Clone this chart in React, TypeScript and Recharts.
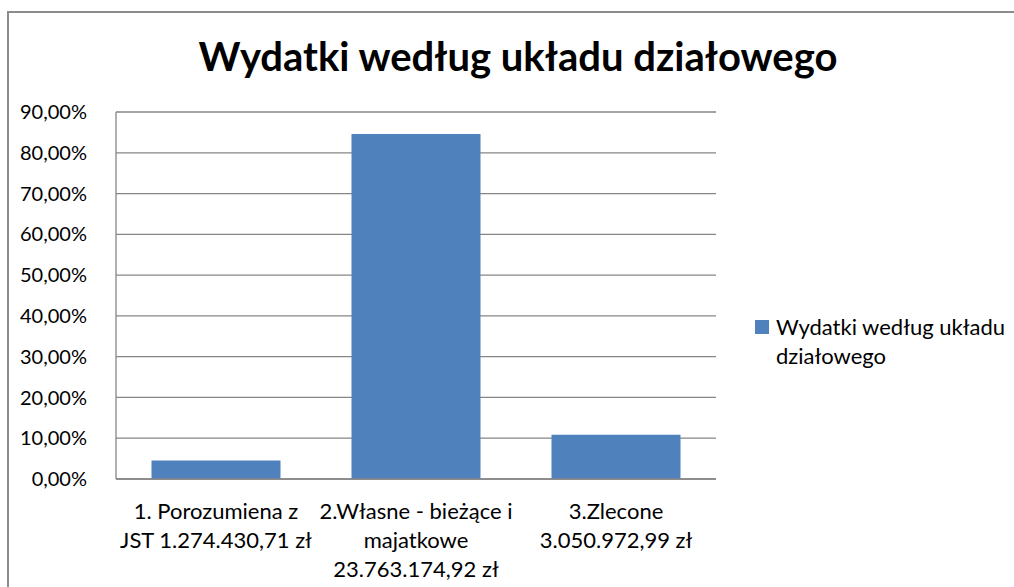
import { Bar, BarChart, CartesianGrid, XAxis, YAxis } from "recharts";

const categories = [
  ["1. Porozumiena z", "JST 1.274.430,71 zł"],
  ["2.Własne - bieżące i", "majatkowe", "23.763.174,92 zł"],
  ["3.Zlecone", "3.050.972,99 zł"],
];
const shares = [4.537, 84.602, 10.862];
const yTicks = [0, 10, 20, 30, 40, 50, 60, 70, 80, 90];
const seriesName = "Wydatki według układu działowego";

const data = categories.map((lines, i) => ({
  name: lines.join(" "),
  value: shares[i],
}));

const FONT = "Lato, 'Open Sans', sans-serif";

function CategoryTick({ x, y, payload, index }: any) {
  const lines = categories[index ?? 0] ?? [String(payload?.value ?? "")];
  return (
    <text x={x} y={y} textAnchor="middle" fill="#000" fontSize={22} fontFamily={FONT}>
      {lines.map((l, i) => (
        <tspan key={i} x={x} dy={i === 0 ? 32 : 29}>
          {l}
        </tspan>
      ))}
    </text>
  );
}

export default function App() {
  return (
    <div style={{ position: "fixed", left: 0, top: 0, width: 1014, height: 587, overflow: "hidden", background: "#fff" }}>
      <div style={{ position: "absolute", left: 7, top: 11, width: 1100, height: 700, border: "2px solid #8c8c8c", boxSizing: "border-box" }} />
      <div style={{ position: "absolute", left: 0, top: 32, width: 1036, textAlign: "center", fontFamily: FONT, fontWeight: 700, fontSize: 40, color: "#000" }}>
        {seriesName}
      </div>
      <BarChart
        width={1014}
        height={587}
        data={data}
        margin={{ top: 112, right: 298, bottom: 0, left: 0 }}
        barCategoryGap="17.75%"
        style={{ position: "absolute", left: 0, top: 0 }}
      >
        <CartesianGrid vertical={false} stroke="#868686" strokeWidth={1.3} />
        <XAxis
          dataKey="name"
          axisLine={{ stroke: "#868686", strokeWidth: 1.3 }}
          tickLine={false}
          interval={0}
          height={108}
          tick={<CategoryTick />}
        />
        <YAxis
          domain={[0, 90]}
          ticks={yTicks}
          interval={0}
          width={116}
          axisLine={{ stroke: "#868686", strokeWidth: 1.3 }}
          tickLine={false}
          tickMargin={23}
          tickFormatter={(v: number) => v.toFixed(2).replace(".", ",") + "%"}
          tick={{ fill: "#000", fontSize: 20, fontFamily: FONT }}
        />
        <Bar dataKey="value" name={seriesName} fill="#4F81BD" isAnimationActive={false} />
      </BarChart>
      <div
        style={{
          position: "absolute",
          left: 755,
          top: 312,
          display: "flex",
          alignItems: "flex-start",
          fontFamily: FONT,
          fontSize: 22,
          lineHeight: "29px",
          color: "#000",
        }}
      >
        <div style={{ width: 14, height: 14, background: "#4F81BD", marginTop: 8, marginRight: 7, flexShrink: 0 }} />
        <div style={{ width: 250 }}>
          Wydatki według układu
          <br />
          działowego
        </div>
      </div>
    </div>
  );
}
